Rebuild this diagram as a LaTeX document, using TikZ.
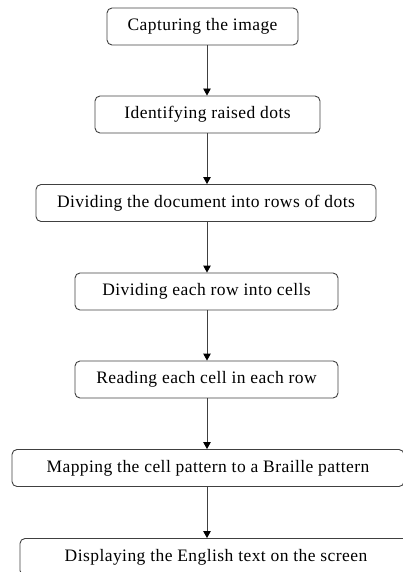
\documentclass[tikz,border=0pt]{standalone}
\usepackage{fontspec}
\setmainfont[LetterSpace=2.5]{Liberation Serif}
\usetikzlibrary{arrows.meta}

\tikzset{
  stage/.style={draw=black!75, line width=0.9pt, rounded corners=5pt,
    minimum height=37pt, inner sep=0pt, font=\fontsize{17.5}{19}\selectfont},
  flow/.style={draw=black!75, line width=0.9pt, -{Triangle[length=7pt,width=7.5pt,black]}}
}

\begin{document}
\begin{tikzpicture}[x=1pt,y=-1pt]
\useasboundingbox (0,0) rectangle (402,572);
% spine for the arrows
\coordinate (spine) at (207,0);
\node[stage, minimum width=191pt] (capture) at (202.5,26.5) {Capturing the image};
\node[stage, minimum width=225pt] (raised) at (207.5,114.5) {Identifying raised dots};
\node[stage, minimum width=340pt] (rows) at (206,203) {Dividing the document into rows of dots};
\node[stage, minimum width=263pt] (cells) at (206.5,291.5) {Dividing each row into cells};
\node[stage, minimum width=263pt] (read) at (206.5,379.5) {Reading each cell in each row};
\node[stage, minimum width=392pt] (map) at (208,468) {Mapping the cell pattern to a Braille pattern};
\node[stage, minimum width=392pt] (show) at (216,557) {Displaying the English text on the screen};
% arrows
\draw[flow] (capture.south -| spine) -- (raised.north -| spine);
\draw[flow] (raised.south -| spine) -- (rows.north -| spine);
\draw[flow] (rows.south -| spine) -- (cells.north -| spine);
\draw[flow] (cells.south -| spine) -- (read.north -| spine);
\draw[flow] (read.south -| spine) -- (map.north -| spine);
\draw[flow] (map.south -| spine) -- (show.north -| spine);
\end{tikzpicture}
\end{document}
